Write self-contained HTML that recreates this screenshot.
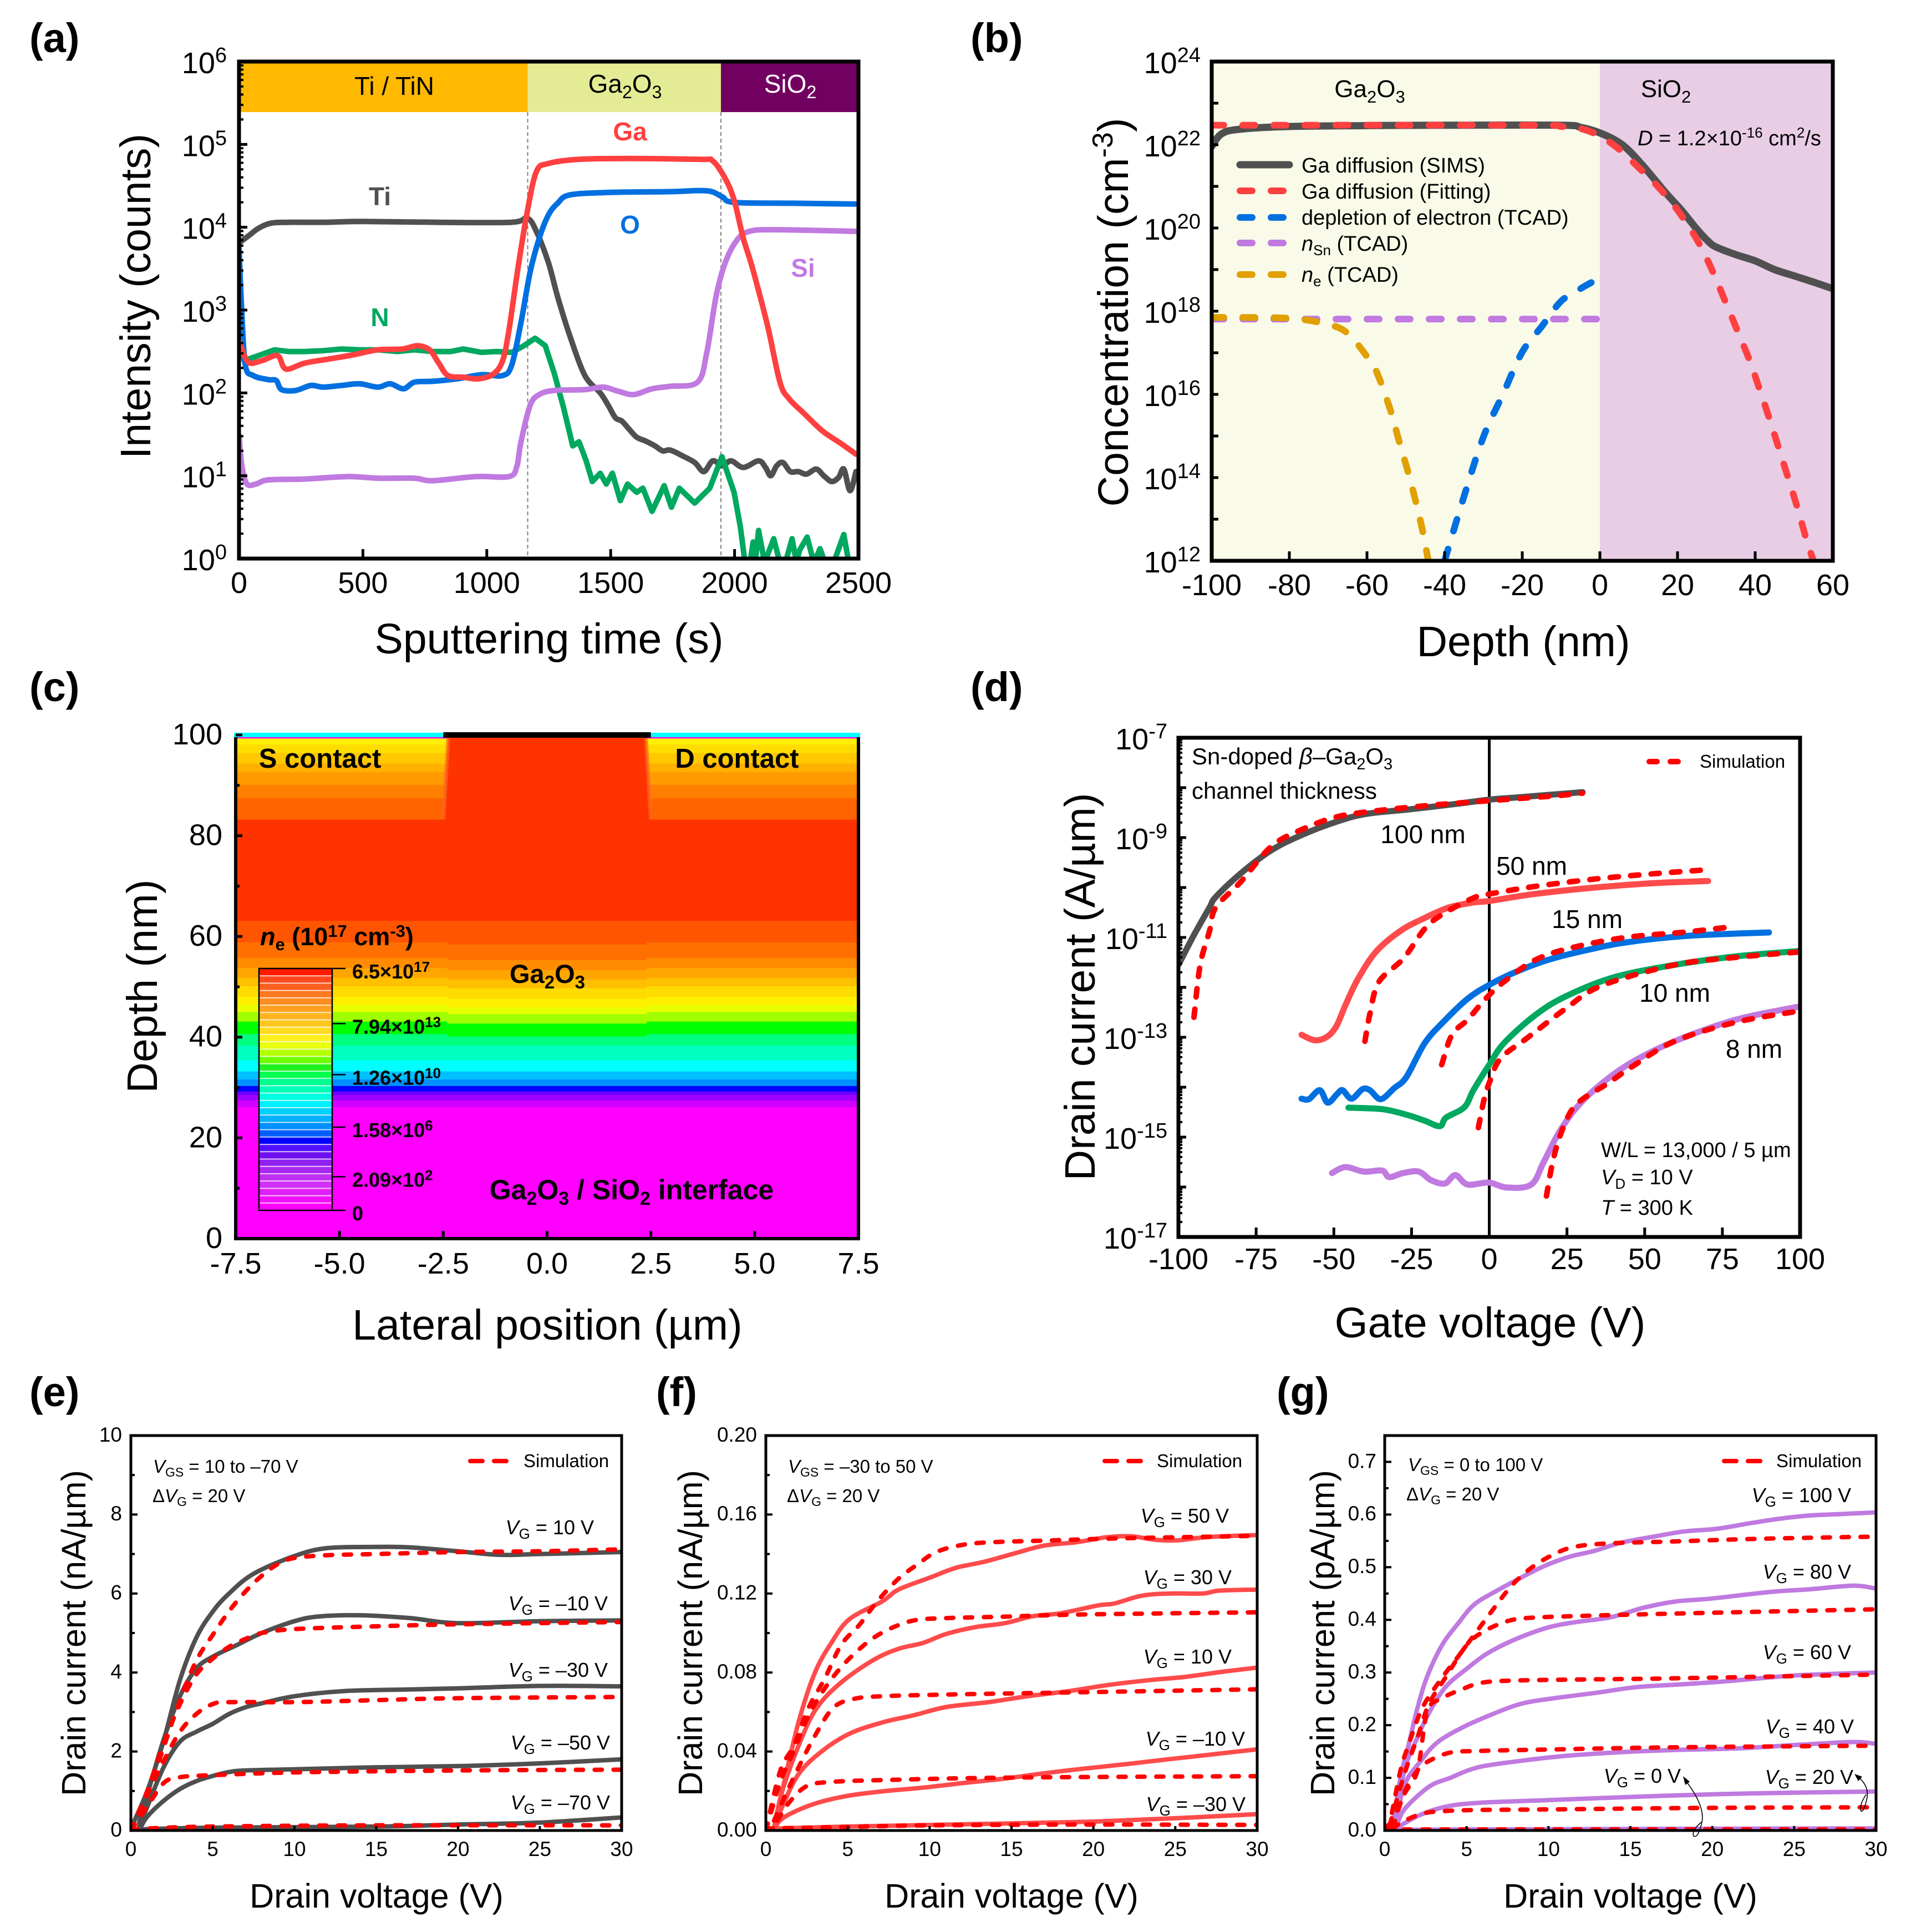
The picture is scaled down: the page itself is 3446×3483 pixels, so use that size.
<!DOCTYPE html>
<html lang="en">
<head>
<meta charset="utf-8">
<title>Ga2O3 device characterization figure</title>
<style>
html,body{margin:0;padding:0;background:#fff;}
svg{display:block;font-family:"Liberation Sans",sans-serif;fill:#000;}
.pl{font-size:74px;font-weight:bold;}
.tt{font-size:77px;}
.st{font-size:61px;}
.t46{font-size:46px;}
.t38{font-size:38px;}
.t42{font-size:42px;}
.t35{font-size:38px;}
.t33{font-size:33px;}
.t32{font-size:33px;}
.vg{font-size:36px;text-anchor:end;}
.m{text-anchor:middle;}
.b{font-weight:bold;}
.i{font-style:italic;}
</style>
</head>
<body>
<svg id="figure" xmlns="http://www.w3.org/2000/svg" width="3446" height="3483" viewBox="0 0 3446 3483">
<rect x="0" y="0" width="3446" height="3483" fill="#fff"/>
<g id="marks"></g>
<g id="labels">
  <text class="pl" x="53" y="94">(a)</text>
  <text class="pl" x="1750" y="94">(b)</text>
  <text class="pl" x="53" y="1264">(c)</text>
  <text class="pl" x="1750" y="1264">(d)</text>
  <text class="pl" x="53" y="2535">(e)</text>
  <text class="pl" x="1183" y="2535">(f)</text>
  <text class="pl" x="2302" y="2535">(g)</text>

  <!-- panel a -->
  <text class="tt m" x="990" y="1178">Sputtering time (s)</text>
  <text class="tt m" transform="translate(271,534) rotate(-90)">Intensity (counts)</text>
  <text class="t46 m" x="711" y="171">Ti / TiN</text>
  <text class="t46 m" x="1127" y="167">Ga<tspan dy="10" font-size="32">2</tspan><tspan dy="-10">O</tspan><tspan dy="10" font-size="32">3</tspan></text>
  <text class="t46 m" x="1425" y="167" fill="#fff">SiO<tspan dy="10" font-size="32">2</tspan></text>
  <text class="t46 m b" x="1136" y="253" fill="#ff4040">Ga</text>
  <text class="t46 m b" x="685" y="370" fill="#505050">Ti</text>
  <text class="t46 m b" x="685" y="588" fill="#00a860">N</text>
  <text class="t46 m b" x="1136" y="421" fill="#0070e0">O</text>
  <text class="t46 m b" x="1448" y="499" fill="#c07ae0">Si</text>

  <!-- panel b -->
  <text class="tt m" x="2747" y="1183">Depth (nm)</text>
  <text class="tt m" transform="translate(2034,563) rotate(-90)">Concentration (cm<tspan dy="-28" font-size="52">-3</tspan><tspan dy="28">)</tspan></text>
  <text class="m" font-size="44" x="2470" y="175">Ga<tspan dy="10" font-size="31">2</tspan><tspan dy="-10">O</tspan><tspan dy="10" font-size="31">3</tspan></text>
  <text class="m" font-size="44" x="3004" y="175">SiO<tspan dy="10" font-size="31">2</tspan></text>
  <text class="t38" x="2953" y="262"><tspan class="i">D</tspan> = 1.2×10<tspan dy="-14" font-size="26">-16</tspan><tspan dy="14"> cm</tspan><tspan dy="-14" font-size="26">2</tspan><tspan dy="14">/s</tspan></text>
  <text class="t38" x="2347" y="311">Ga diffusion (SIMS)</text>
  <text class="t38" x="2347" y="358">Ga diffusion (Fitting)</text>
  <text class="t38" x="2347" y="405">depletion of electron (TCAD)</text>
  <text class="t38" x="2347" y="452"><tspan class="i">n</tspan><tspan dy="8" font-size="26">Sn</tspan><tspan dy="-8"> (TCAD)</tspan></text>
  <text class="t38" x="2347" y="508"><tspan class="i">n</tspan><tspan dy="8" font-size="26">e</tspan><tspan dy="-8"> (TCAD)</tspan></text>

  <!-- panel c -->
  <text class="tt m" x="987" y="2415">Lateral position (µm)</text>
  <text class="tt m" transform="translate(283,1778) rotate(-90)">Depth (nm)</text>
  <text class="b m" font-size="49" x="577" y="1384">S contact</text>
  <text class="b m" font-size="49" x="1329" y="1384">D contact</text>
  <text class="b m" font-size="47" x="987" y="1772">Ga<tspan dy="10" font-size="33">2</tspan><tspan dy="-10">O</tspan><tspan dy="10" font-size="33">3</tspan></text>
  <text class="b m" font-size="50" x="1139" y="2162">Ga<tspan dy="10" font-size="34">2</tspan><tspan dy="-10">O</tspan><tspan dy="10" font-size="34">3</tspan><tspan dy="-10"> / SiO</tspan><tspan dy="10" font-size="34">2</tspan><tspan dy="-10"> interface</tspan></text>
  <text class="b" font-size="45" x="469" y="1704"><tspan class="i">n</tspan><tspan dy="9" font-size="31">e</tspan><tspan dy="-9"> (10</tspan><tspan dy="-15" font-size="31">17</tspan><tspan dy="15"> cm</tspan><tspan dy="-15" font-size="31">-3</tspan><tspan dy="15">)</tspan></text>

  <!-- panel d -->
  <text class="tt m" x="2687" y="2411">Gate voltage (V)</text>
  <text class="tt m" transform="translate(1974,1779) rotate(-90)">Drain current (A/µm)</text>
  <text class="t42" x="2149" y="1378">Sn-doped <tspan class="i">β</tspan>–Ga<tspan dy="9" font-size="29">2</tspan><tspan dy="-9">O</tspan><tspan dy="9" font-size="29">3</tspan></text>
  <text class="t42" x="2149" y="1440">channel thickness</text>
  <text class="t33" x="3065" y="1384">Simulation</text>
  <text class="t46 m" x="2566" y="1520">100 nm</text>
  <text class="t46 m" x="2762" y="1577">50 nm</text>
  <text class="t46 m" x="2862" y="1673">15 nm</text>
  <text class="t46 m" x="3020" y="1806">10 nm</text>
  <text class="t46 m" x="3163" y="1907">8 nm</text>
  <text class="t35" x="2887" y="2086">W/L = 13,000 / 5 µm</text>
  <text class="t35" x="2887" y="2135"><tspan class="i">V</tspan><tspan dy="8" font-size="26">D</tspan><tspan dy="-8"> = 10 V</tspan></text>
  <text class="t35" x="2887" y="2190"><tspan class="i">T</tspan> = 300 K</text>

  <!-- panel e -->
  <text class="st m" x="679" y="3439">Drain voltage (V)</text>
  <text class="st m" transform="translate(154,2944) rotate(-90)">Drain current (nA/µm)</text>
  <text class="t32" x="276" y="2655"><tspan class="i">V</tspan><tspan dy="7" font-size="23">GS</tspan><tspan dy="-7"> = 10 to –70 V</tspan></text>
  <text class="t32" x="275" y="2708">Δ<tspan class="i">V</tspan><tspan dy="7" font-size="23">G</tspan><tspan dy="-7"> = 20 V</tspan></text>
  <text class="t33" x="944" y="2645">Simulation</text>
  <text class="vg" x="1071" y="2766"><tspan class="i">V</tspan><tspan dy="8" font-size="26">G</tspan><tspan dy="-8"> = 10 V</tspan></text>
  <text class="vg" x="1096" y="2903"><tspan class="i">V</tspan><tspan dy="8" font-size="26">G</tspan><tspan dy="-8"> = –10 V</tspan></text>
  <text class="vg" x="1096" y="3023"><tspan class="i">V</tspan><tspan dy="8" font-size="26">G</tspan><tspan dy="-8"> = –30 V</tspan></text>
  <text class="vg" x="1100" y="3154"><tspan class="i">V</tspan><tspan dy="8" font-size="26">G</tspan><tspan dy="-8"> = –50 V</tspan></text>
  <text class="vg" x="1100" y="3262"><tspan class="i">V</tspan><tspan dy="8" font-size="26">G</tspan><tspan dy="-8"> = –70 V</tspan></text>

  <!-- panel f -->
  <text class="st m" x="1824" y="3439">Drain voltage (V)</text>
  <text class="st m" transform="translate(1266,2944) rotate(-90)">Drain current (nA/µm)</text>
  <text class="t32" x="1421" y="2655"><tspan class="i">V</tspan><tspan dy="7" font-size="23">GS</tspan><tspan dy="-7"> = –30 to 50 V</tspan></text>
  <text class="t32" x="1419" y="2708">Δ<tspan class="i">V</tspan><tspan dy="7" font-size="23">G</tspan><tspan dy="-7"> = 20 V</tspan></text>
  <text class="t33" x="2086" y="2645">Simulation</text>
  <text class="vg" x="2216" y="2745"><tspan class="i">V</tspan><tspan dy="8" font-size="26">G</tspan><tspan dy="-8"> = 50 V</tspan></text>
  <text class="vg" x="2221" y="2856"><tspan class="i">V</tspan><tspan dy="8" font-size="26">G</tspan><tspan dy="-8"> = 30 V</tspan></text>
  <text class="vg" x="2221" y="2999"><tspan class="i">V</tspan><tspan dy="8" font-size="26">G</tspan><tspan dy="-8"> = 10 V</tspan></text>
  <text class="vg" x="2245" y="3147"><tspan class="i">V</tspan><tspan dy="8" font-size="26">G</tspan><tspan dy="-8"> = –10 V</tspan></text>
  <text class="vg" x="2246" y="3265"><tspan class="i">V</tspan><tspan dy="8" font-size="26">G</tspan><tspan dy="-8"> = –30 V</tspan></text>

  <!-- panel g -->
  <text class="st m" x="2940" y="3439">Drain voltage (V)</text>
  <text class="st m" transform="translate(2406,2944) rotate(-90)">Drain current (pA/µm)</text>
  <text class="t32" x="2539" y="2652"><tspan class="i">V</tspan><tspan dy="7" font-size="23">GS</tspan><tspan dy="-7"> = 0 to 100 V</tspan></text>
  <text class="t32" x="2536" y="2705">Δ<tspan class="i">V</tspan><tspan dy="7" font-size="23">G</tspan><tspan dy="-7"> = 20 V</tspan></text>
  <text class="t33" x="3203" y="2645">Simulation</text>
  <text class="vg" x="3338" y="2708"><tspan class="i">V</tspan><tspan dy="8" font-size="26">G</tspan><tspan dy="-8"> = 100 V</tspan></text>
  <text class="vg" x="3338" y="2846"><tspan class="i">V</tspan><tspan dy="8" font-size="26">G</tspan><tspan dy="-8"> = 80 V</tspan></text>
  <text class="vg" x="3338" y="2991"><tspan class="i">V</tspan><tspan dy="8" font-size="26">G</tspan><tspan dy="-8"> = 60 V</tspan></text>
  <text class="vg" x="3343" y="3125"><tspan class="i">V</tspan><tspan dy="8" font-size="26">G</tspan><tspan dy="-8"> = 40 V</tspan></text>
  <text class="vg" x="3342" y="3216"><tspan class="i">V</tspan><tspan dy="8" font-size="26">G</tspan><tspan dy="-8"> = 20 V</tspan></text>
  <text class="vg" x="3031" y="3214"><tspan class="i">V</tspan><tspan dy="8" font-size="26">G</tspan><tspan dy="-8"> = 0 V</tspan></text>
  <path d="M3038 3208 Q3075 3255 3069 3285 Q3062 3315 3054 3310 Q3050 3300 3068 3285" fill="none" stroke="#000" stroke-width="1.6"/>
  <path d="M3035 3202 L3047 3212 L3039 3218 Z" fill="#000"/>
  <path d="M3350 3203 Q3372 3220 3366 3245 Q3360 3268 3356 3265 Q3352 3255 3365 3235" fill="none" stroke="#000" stroke-width="1.6"/>
  <path d="M3344 3198 L3358 3203 L3351 3211 Z" fill="#000"/>
</g>
<script>
// ---------- panel a data: [sputtering time (s), log10 counts] ----------
const aXTicks = [0, 500, 1000, 1500, 2000, 2500];
const aYDecades = [0, 1, 2, 3, 4, 5, 6];
const aBandEdges = [0, 1165, 1945, 2500];
const aBandFloor = 5.39;
const aTi = [[0,3.81],[40,3.9],[80,3.99],[130,4.05],[200,4.06],[350,4.06],[500,4.07],[800,4.06],[1100,4.06],[1163,4.11],[1200,3.95],[1249,3.57],[1286,3.16],[1335,2.69],[1396,2.21],[1458,2.0],[1490,1.85],[1519,1.7],[1545,1.66],[1575,1.56],[1605,1.465],[1640,1.42],[1679,1.36],[1710,1.3],[1740,1.31],[1790,1.24],[1839,1.16],[1876,1.05],[1912,1.18],[1950,1.12],[1986,1.18],[2035,1.1],[2097,1.18],[2125,1.1],[2146,1.0],[2170,1.12],[2195,1.16],[2225,1.05],[2257,1.05],[2290,1.02],[2330,1.08],[2360,1.0],[2392,0.93],[2420,0.98],[2441,1.08],[2466,0.82],[2490,1.05]];
const aN = [[0,2.75],[20,2.39],[69,2.44],[143,2.52],[200,2.5],[265,2.5],[340,2.51],[413,2.53],[490,2.52],[560,2.52],[640,2.5],[708,2.52],[780,2.5],[855,2.5],[905,2.53],[978,2.49],[1040,2.5],[1101,2.49],[1150,2.57],[1195,2.66],[1236,2.57],[1273,2.23],[1310,1.82],[1347,1.36],[1372,1.41],[1401,1.18],[1426,0.93],[1458,1.03],[1482,0.9],[1507,1.03],[1539,0.7],[1568,0.9],[1605,0.8],[1630,0.85],[1667,0.57],[1716,0.88],[1745,0.62],[1777,0.85],[1839,0.67],[1900,0.85],[1949,1.23],[1998,0.8],[2023,0.39],[2040,0],[2060,-0.1],[2075,0.2],[2085,0],[2097,0.34],[2121,-0.05],[2158,0.24],[2183,-0.05],[2205,-0.05],[2232,0.24],[2250,-0.05],[2262,0.1],[2293,0.26],[2320,-0.05],[2345,0.12],[2365,-0.05],[2400,-0.05],[2441,0.29],[2461,-0.05],[2495,-0.05]];
const aO = [[0,3.77],[10,3.05],[25,2.34],[57,2.21],[118,2.16],[150,2.15],[172,2.04],[229,2.03],[290,2.09],[339,2.07],[413,2.09],[487,2.11],[560,2.07],[610,2.11],[664,2.05],[708,2.13],[782,2.14],[880,2.17],[978,2.22],[1064,2.21],[1101,2.34],[1138,2.85],[1175,3.46],[1212,3.87],[1249,4.15],[1286,4.29],[1335,4.39],[1495,4.42],[1740,4.43],[1888,4.44],[1949,4.37],[1998,4.3],[2232,4.29],[2490,4.28]];
const aSi = [[0,1.49],[12,1.11],[32,0.9],[69,0.9],[118,0.95],[265,0.96],[437,0.99],[560,0.97],[708,0.97],[782,0.94],[954,0.99],[1089,0.99],[1121,1.11],[1138,1.41],[1175,1.85],[1212,1.98],[1273,2.03],[1396,2.04],[1470,2.07],[1530,2.02],[1593,1.98],[1667,2.05],[1740,2.08],[1851,2.13],[1888,2.49],[1925,3.16],[1962,3.57],[2011,3.85],[2060,3.95],[2158,3.97],[2490,3.95]];
const aGa = [[0,2.64],[20,2.46],[44,2.36],[93,2.39],[155,2.45],[180,2.31],[204,2.29],[265,2.36],[364,2.41],[462,2.46],[560,2.52],[659,2.53],[720,2.57],[769,2.52],[806,2.36],[843,2.21],[905,2.19],[966,2.17],[1027,2.23],[1064,2.39],[1089,2.75],[1126,3.51],[1163,4.18],[1200,4.67],[1249,4.77],[1372,4.82],[1568,4.83],[1863,4.82],[1912,4.8],[1962,4.59],[1998,4.33],[2035,3.87],[2072,3.51],[2134,2.8],[2183,2.13],[2220,1.93],[2281,1.75],[2355,1.54],[2429,1.39],[2490,1.26]];

// ---------- panel b data: [depth (nm), log10 concentration] ----------
const bXTicks = [-100, -80, -60, -40, -20, 0, 20, 40, 60];
const bYLabelDecades = [12, 14, 16, 18, 20, 22, 24];
const bYTickDecades = [12, 13, 14, 15, 16, 17, 18, 19, 20, 21, 22, 23, 24];
const bRegionEdges = [-100, 0, 60];
const bSims = [[-100,21.96],[-97.5,22.26],[-93,22.37],[-80,22.44],[-60,22.46],[-40,22.47],[-10,22.47],[-5,22.42],[-1,22.32],[4,22.11],[7.5,21.86],[12,21.4],[17,20.84],[21,20.43],[25,19.97],[28,19.67],[30,19.54],[35,19.36],[40,19.21],[45,19.0],[50,18.85],[55,18.7],[60,18.54]];
const bFit = [[-100,22.47],[-20,22.47],[-10,22.44],[-5,22.39],[0,22.21],[5,21.89],[10,21.45],[15,20.99],[20,20.43],[25,19.72],[28.6,19.05],[32.5,18.19],[35.7,17.47],[38.8,16.76],[41.2,16.1],[43.8,15.38],[46.2,14.67],[48.6,13.96],[51,13.24],[53.3,12.48],[55,12.0]];
const bDepletion = [[-40,12],[-35,13.55],[-30,14.98],[-25,16],[-20,17.02],[-15,17.63],[-10,18.24],[-5,18.54],[-2,18.7]];
const bNsn = [[-100,17.81],[0,17.81]];
const bNe = [[-100,17.85],[-80,17.83],[-70,17.68],[-65,17.47],[-60,16.91],[-57.6,16.56],[-54.2,15.69],[-51.7,14.87],[-49.5,14.16],[-47.5,13.45],[-45.7,12.73],[-44.2,12]];

// ---------- panel c data ----------
const cXTicks = [-7.5, -5, -2.5, 0, 2.5, 5, 7.5];
const cXLabels = ["-7.5", "-5.0", "-2.5", "0.0", "2.5", "5.0", "7.5"];
const cYTicks = [0, 20, 40, 60, 80, 100];
const cYMinorTicks = [10, 30, 50, 70, 90];
const cBandDepths = [99.3,98.1,96.4,94.3,92.6,90.1,87.4,83.2,63.1,58.8,55.7,53.7,51.8,50.1,48,46.3,45,43.1,40.6,38.3,35.4,33.2,31.6,30.3,29.2,28.5,27.4,26.1,0.4];
const cBandColors = ["#ffee00","#ffdd00","#ffc800","#ffb000","#ff9a00","#ff7f00","#ff6400","#ff3300","#ff5500","#ff7000","#ff8c00","#ffa500","#ffc000","#ffdc00","#fff000","#e8ff00","#a0ff00","#00ff00","#00ff80","#00ffc0","#00ffff","#00c0ff","#0090ff","#0000ff","#7000ff","#a000ff","#d000ff","#ff00ff"];
const cGateEdgeTop = 2.38;
const cGateEdgeBottom = 2.5;
const cGateBottomDepth = 83.2;
const cCenterShift = 0.4;
const cLegendColors = ["#ff1a00","#ff4a20","#ff6020","#ff7820","#ff8c20","#ffa020","#ffb420","#ffc820","#ffdc20","#fff020","#e8ff10","#b4ff00","#70ff00","#20f020","#00ff50","#00ff90","#00ffb8","#00ffe0","#00f0ff","#00d0ff","#00b0ff","#0090ff","#0060ff","#0000ff","#5010ff","#7010f0","#9020f0","#a828f0","#c030f0","#d030f8","#e020f8","#f010fc","#ff00ff"];
const cLegendMantissas = ["6.5", "7.94", "1.26", "1.58", "2.09", "0"];
const cLegendExponents = ["17", "13", "10", "6", "2", ""];
const cLegendFractions = [0, 0.228, 0.439, 0.656, 0.861, 1];

// ---------- panel d data: [gate voltage (V), log10 current] ----------
const dXTicks = [-100, -75, -50, -25, 0, 25, 50, 75, 100];
const dYLabelDecades = [-17, -15, -13, -11, -9, -7];
const dYTickDecades = [-17, -16, -15, -14, -13, -12, -11, -10, -9, -8, -7];
const d100 = [[-100,-11.55],[-95,-10.95],[-90,-10.4],[-88,-10.19],[-80,-9.72],[-70,-9.25],[-60,-8.94],[-50,-8.7],[-40,-8.53],[-25,-8.43],[-10,-8.32],[0,-8.24],[10,-8.19],[20,-8.14],[30,-8.09]];
const d100Sim = [[-95,-12.6],[-93,-11.55],[-90,-10.87],[-88,-10.4],[-80,-9.89],[-70,-9.17],[-60,-8.83],[-50,-8.6],[-40,-8.49],[-20,-8.36],[0,-8.26],[20,-8.17],[30,-8.11]];
const d50 = [[-60.4,-12.95],[-56.1,-13.06],[-52.2,-12.99],[-49.2,-12.78],[-46.3,-12.36],[-42.4,-11.85],[-36.5,-11.29],[-28.6,-10.87],[-20.8,-10.61],[-13,-10.4],[-5.1,-10.3],[0,-10.27],[14.5,-10.13],[34,-10.0],[53.7,-9.91],[70.4,-9.87]];
const d50Sim = [[-40,-13.08],[-38.4,-12.53],[-35.5,-11.89],[-27.6,-11.42],[-20.8,-10.83],[-14.9,-10.53],[-5.1,-10.21],[0,-10.13],[14.5,-9.98],[34,-9.83],[53.7,-9.72],[69,-9.65]];
const d15 = [[-60.4,-14.23],[-58,-14.24],[-54.5,-14.06],[-52,-14.31],[-49,-14.14],[-47.2,-14.06],[-44.3,-14.23],[-40.8,-14.04],[-38.4,-14.06],[-34.9,-14.24],[-30.6,-14.02],[-26.7,-13.8],[-20.8,-13.12],[-14.9,-12.7],[-7,-12.23],[0,-11.95],[8.6,-11.69],[18.4,-11.46],[30.2,-11.27],[43.9,-11.1],[63.5,-10.97],[90,-10.9]];
const d15Sim = [[-15.3,-13.55],[-12,-12.95],[-7,-12.65],[-1.2,-12.23],[4.7,-11.89],[14.5,-11.46],[26.3,-11.21],[43.9,-11.0],[63.5,-10.89],[79,-10.78]];
const d10 = [[-45.3,-14.41],[-34.5,-14.44],[-26.7,-14.55],[-20.8,-14.67],[-15.9,-14.78],[-13.9,-14.61],[-8,-14.4],[-5.1,-14.06],[0,-13.55],[4.7,-13.12],[14.5,-12.57],[24.3,-12.19],[40,-11.8],[59.6,-11.55],[79.2,-11.38],[100,-11.27]];
const d10Sim = [[-3.5,-14.81],[-1.6,-14.23],[0.4,-13.85],[3.7,-13.42],[12.5,-13],[24.3,-12.44],[36,-11.97],[59.6,-11.55],[79.2,-11.4],[100,-11.29]];
const d8 = [[-50.6,-15.72],[-46.3,-15.6],[-40.4,-15.69],[-34.5,-15.67],[-32.2,-15.8],[-27.7,-15.72],[-22.7,-15.69],[-18.8,-15.86],[-14.3,-15.93],[-10.9,-15.76],[-7,-15.95],[-0.2,-15.91],[5.7,-16.01],[13.5,-15.95],[17.5,-15.5],[22.4,-14.91],[28.2,-14.4],[36.1,-13.93],[45.9,-13.5],[59.6,-13.08],[79.2,-12.65],[100,-12.38]];
const d8Sim = [[18.4,-16.18],[20.4,-15.5],[22.9,-14.95],[26.3,-14.48],[30.2,-14.23],[38,-13.93],[45.9,-13.59],[59.6,-13.08],[79.2,-12.7],[100,-12.47]];
const dZeroLine = 0;

// ---------- panel e data: [drain voltage (V), current (nA/um)] ----------
const outXTicks = [0, 5, 10, 15, 20, 25, 30];
const eYTicks = [0, 2, 4, 6, 8, 10];
const eYMinorTicks = [1, 3, 5, 7, 9];
const eVg10 = [[0,0.05],[1,1.0],[2,2.27],[3,3.81],[4,4.88],[5,5.54],[6,6.0],[7.5,6.5],[10,6.95],[12,7.15],[15,7.18],[17,7.17],[20,7.07],[22.5,6.98],[25,7.0],[30,7.05]];
const eVgM10 = [[0.5,0.2],[1,0.9],[2,2.3],[3,3.4],[4,4.1],[5,4.4],[6.5,4.7],[8,5.0],[10,5.3],[11.5,5.42],[14,5.45],[17,5.38],[20,5.25],[25,5.3],[30,5.32]];
const eVgM30 = [[0.5,0.1],[1,0.6],[2,1.6],[3,2.25],[4,2.5],[5,2.7],[6,2.95],[7,3.12],[8,3.22],[10,3.4],[13,3.53],[17,3.57],[20,3.6],[25,3.66],[30,3.65]];
const eVgM50 = [[0.5,0],[1,0.35],[2,0.75],[3,1.05],[4,1.25],[5,1.38],[6,1.48],[7,1.52],[10,1.55],[15,1.6],[20,1.63],[25,1.7],[30,1.8]];
const eVgM70 = [[0.5,0.03],[5,0.07],[15,0.1],[20,0.15],[25,0.2],[30,0.33]];
const eSim10 = [[0,0],[1,0.9],[2,2.1],[3,3.3],[4,4.3],[5,4.95],[6,5.55],[7,6.05],[8,6.45],[9,6.75],[10,6.9],[12,6.97],[15,7.0],[20,7.05],[25,7.07],[30,7.12]];
const eSimM10 = [[0,0],[1,1.0],[2,2.2],[3,3.2],[4,3.95],[5,4.35],[6,4.65],[7,4.85],[8,5.0],[10,5.1],[15,5.17],[20,5.22],[30,5.28]];
const eSimM30 = [[0,0],[1,0.9],[2,1.75],[3,2.5],[4,2.95],[5,3.2],[6,3.25],[10,3.25],[15,3.3],[20,3.35],[30,3.38]];
const eSimM50 = [[0,0],[1,0.6],[2,1.2],[3,1.35],[5,1.4],[10,1.47],[20,1.52],[30,1.54]];
const eSimM70 = [[0,0],[1,0.05],[5,0.1],[15,0.13],[30,0.13]];

// ---------- panel f data: [drain voltage (V), current (nA/um)] ----------
const fYTicks = [0, 0.04, 0.08, 0.12, 0.16, 0.2];
const fYLabels = ["0.00", "0.04", "0.08", "0.12", "0.16", "0.20"];
const fYMinorTicks = [0.02, 0.06, 0.1, 0.14, 0.18];
const fVg50 = [[0.5,0.001],[1,0.02],[2,0.055],[3,0.08],[4,0.095],[5.1,0.107],[7.1,0.116],[8.1,0.122],[10,0.128],[11.6,0.133],[13.3,0.136],[15.3,0.1406],[17,0.1443],[19,0.146],[20.8,0.1485],[22.3,0.149],[23.8,0.1472],[25.2,0.147],[27,0.1486],[30,0.1496]];
const fVg30 = [[0.5,0.001],[1,0.02],[2.1,0.045],[3.1,0.062],[4.6,0.075],[6.6,0.0865],[8.1,0.092],[9.6,0.095],[11,0.0995],[12.8,0.103],[14.6,0.105],[16.3,0.1085],[18,0.11],[20.3,0.114],[21.3,0.115],[23,0.119],[24.8,0.12],[26.7,0.12],[27.7,0.1215],[30,0.122]];
const fVg10 = [[0.5,0.001],[1,0.012],[2,0.0286],[3.4,0.04],[5.1,0.049],[7.1,0.0547],[9.1,0.0585],[11,0.0625],[13.6,0.065],[16,0.068],[18.5,0.0706],[21,0.0738],[23.5,0.0762],[25.5,0.0777],[28,0.0805],[30,0.0825]];
const fVgM10 = [[0.5,0.001],[1,0.006],[2.1,0.0108],[3.4,0.0146],[5.1,0.0177],[7.1,0.0198],[9.6,0.0217],[12,0.024],[14.6,0.0263],[17,0.029],[19.5,0.0314],[22,0.0336],[24.5,0.036],[27,0.0383],[30,0.0411]];
const fVgM30 = [[0.5,0.001],[5,0.002],[10,0.0028],[15,0.0036],[20,0.0045],[25,0.0062],[30,0.0083]];
const fSim50 = [[0,0],[0.87,0.03],[1.74,0.0435],[2.6,0.062],[3.6,0.077],[4.6,0.094],[5.7,0.104],[6.8,0.116],[8.1,0.1275],[9.3,0.135],[10.3,0.1406],[11.6,0.144],[13.3,0.1458],[17,0.1468],[22,0.148],[30,0.1492]];
const fSim30 = [[0,0],[0.9,0.025],[1.7,0.04],[2.6,0.058],[3.6,0.072],[4.6,0.0827],[5.6,0.091],[6.6,0.0977],[7.8,0.103],[9.1,0.1065],[10.8,0.1075],[14.6,0.1083],[19.5,0.1094],[30,0.1105]];
const fSim10 = [[0.5,0.005],[1.2,0.018],[2,0.032],[3,0.048],[4.1,0.062],[5.3,0.0665],[7.1,0.068],[12,0.069],[17,0.0697],[30,0.0715]];
const fSimM10 = [[0.7,0.005],[1.5,0.015],[2.5,0.0225],[3.8,0.0245],[7,0.0255],[15,0.0268],[30,0.0275]];
const fSimM30 = [[0,0.001],[5,0.0018],[10,0.0026],[20,0.003],[30,0.0028]];

// ---------- panel g data: [drain voltage (V), current (pA/um)] ----------
const gYTicks = [0, 0.1, 0.2, 0.3, 0.4, 0.5, 0.6, 0.7];
const gYLabels = ["0.0", "0.1", "0.2", "0.3", "0.4", "0.5", "0.6", "0.7"];
const gYMinorTicks = [0.05, 0.15, 0.25, 0.35, 0.45, 0.55, 0.65];
const gVg100 = [[0.5,0.01],[0.96,0.1],[1.46,0.163],[2,0.233],[2.6,0.293],[3.5,0.352],[4.5,0.394],[5.5,0.43],[7,0.458],[8.25,0.479],[9.8,0.503],[11.3,0.52],[12.8,0.531],[14.5,0.547],[16.6,0.559],[18.3,0.568],[20.3,0.573],[22.4,0.584],[24.1,0.592],[25.9,0.598],[27.9,0.601],[29.9,0.604]];
const gVg80 = [[0.6,0.01],[1.2,0.114],[2,0.177],[2.7,0.223],[3.7,0.272],[5,0.307],[6.2,0.335],[7.75,0.36],[9.8,0.384],[11.5,0.395],[13.8,0.405],[15.8,0.423],[17.8,0.435],[19.8,0.44],[21.8,0.447],[23.9,0.454],[25.9,0.458],[28.6,0.465],[29.9,0.46]];
const gVg60 = [[0.6,0.005],[1.2,0.086],[2.2,0.132],[3.2,0.167],[4.7,0.195],[6.2,0.216],[8.25,0.24],[10.3,0.251],[12.8,0.261],[15.3,0.272],[17.8,0.277],[20.3,0.282],[22.9,0.289],[25.4,0.295],[29.9,0.3]];
const gVg40 = [[0.7,0.005],[1.2,0.04],[2.7,0.083],[4,0.1],[5.7,0.12],[8.25,0.132],[10.8,0.141],[14,0.148],[17.8,0.153],[21.6,0.156],[25.4,0.163],[28.6,0.168],[29.9,0.165]];
const gVg20 = [[0.7,0.002],[1,0.01],[2.2,0.03],[3.7,0.045],[5.7,0.0525],[10.3,0.058],[15.3,0.064],[20.3,0.069],[25.4,0.072],[29.9,0.074]];
const gVg0 = [[0.5,0.001],[5,0.002],[15,0.003],[30,0.004]];
const gSim100 = [[0,0.01],[0.3,0.015],[0.96,0.114],[1.46,0.163],[2.3,0.233],[3.5,0.29],[4.5,0.331],[5.5,0.373],[6.5,0.415],[7.75,0.465],[9,0.5],[10.3,0.524],[11.5,0.538],[13.5,0.545],[17.8,0.549],[22.9,0.554],[29.9,0.558]];
const gSim80 = [[0.3,0.01],[1.2,0.107],[2,0.177],[2.7,0.24],[3.7,0.29],[5,0.352],[6,0.377],[7.25,0.395],[8.5,0.403],[11.5,0.407],[17.8,0.412],[29.9,0.42]];
const gSim60 = [[0.3,0.005],[1.2,0.069],[2,0.114],[2.6,0.226],[3.5,0.251],[4.7,0.268],[6,0.281],[8.25,0.285],[12.8,0.287],[17.8,0.289],[29.9,0.296]];
const gSim40 = [[0.5,0.005],[1.2,0.072],[2,0.114],[2.7,0.132],[4,0.148],[5.7,0.151],[10.3,0.154],[17.8,0.158],[29.9,0.161]];
const gSim20 = [[0.5,0.002],[1,0.015],[2.3,0.032],[3.7,0.037],[5.7,0.039],[10,0.04],[20,0.043],[30,0.044]];
const gSim0 = [[0,0.002],[30,0.002]];

// ---------- drawing helpers ----------
const SVGNS = "http://www.w3.org/2000/svg";
const marks = document.getElementById("marks");
const RED = "#ff0000", GREY = "#505050", BLUE = "#0070e0", GREEN = "#00a860", PURPLE = "#c07ae0", ORANGE = "#e0a000", SOLIDRED = "#ff4b4b";

function add(parent, tag, name, attrs) {
  const el = document.createElementNS(SVGNS, tag);
  
  
  for (const k in attrs) el.setAttribute(k, attrs[k]);
  parent.appendChild(el);
  return el;
}

function makePanel(id, x0, x1, y0, y1, xMin, xMax, yMin, yMax, frame) {
  const g = add(marks, "g", "panel-" + id, {});
  const clipId = "clip-" + id;
  const cp = add(g, "clipPath", id + "-clip", {id: clipId});
  add(cp, "rect", id + "-clip-rect", {x: x0, y: y0, width: x1 - x0, height: y1 - y0});
  const plot = add(g, "g", id + "-plot-area", {"clip-path": "url(#" + clipId + ")"});
  return {
    id, x0, x1, y0, y1, g, plot, frame,
    sx: v => x0 + (v - xMin) / (xMax - xMin) * (x1 - x0),
    sy: v => y1 - (v - yMin) / (yMax - yMin) * (y1 - y0)
  };
}

function linePath(p, pts, smooth) {
  const q = pts.map(d => [p.sx(d[0]), p.sy(d[1])]);
  let s = "M" + q[0][0].toFixed(1) + " " + q[0][1].toFixed(1);
  for (let i = 1; i < q.length; i++) {
    if (!smooth) { s += "L" + q[i][0].toFixed(1) + " " + q[i][1].toFixed(1); continue; }
    const a = q[Math.max(i - 2, 0)], b = q[i - 1], c = q[i], d = q[Math.min(i + 1, q.length - 1)];
    s += "C" + (b[0] + (c[0] - a[0]) / 6).toFixed(1) + " " + (b[1] + (c[1] - a[1]) / 6).toFixed(1) + " " +
      (c[0] - (d[0] - b[0]) / 6).toFixed(1) + " " + (c[1] - (d[1] - b[1]) / 6).toFixed(1) + " " + c[0].toFixed(1) + " " + c[1].toFixed(1);
  }
  return s;
}

function drawLine(p, pts, name, color, width, dash, smooth) {
  const attrs = {d: linePath(p, pts, smooth), fill: "none", stroke: color, "stroke-width": width, "stroke-linejoin": "round", "stroke-linecap": "round"};
  if (dash) attrs["stroke-dasharray"] = dash;
  return add(p.plot, "path", name, attrs);
}

function finishFrame(p) {
  const w = p.frame;
  add(p.g, "rect", p.id + "-plot-frame", {x: p.x0, y: p.y0, width: p.x1 - p.x0, height: p.y1 - p.y0, fill: "none", stroke: "#000", "stroke-width": w});
}

function xTicks(p, vals, len, w, prefix) {
  vals.forEach(v => {
    add(p.g, "line", p.id + "-" + prefix + "-tick", {x1: p.sx(v), x2: p.sx(v), y1: p.y1, y2: p.y1 - len, stroke: "#000", "stroke-width": w});
  });
}

function yTicks(p, vals, len, w, prefix) {
  vals.forEach(v => {
    add(p.g, "line", p.id + "-" + prefix + "-tick", {x1: p.x0, x2: p.x0 + len, y1: p.sy(v), y2: p.sy(v), stroke: "#000", "stroke-width": w});
  });
}

function xLabels(p, vals, labels, baseline, size) {
  vals.forEach((v, i) => {
    const t = add(p.g, "text", p.id + "-x-tick-label", {x: p.sx(v), y: baseline, "text-anchor": "middle", "font-size": size});
    t.textContent = labels[i];
  });
}

function yLabels(p, vals, labels, right, size) {
  vals.forEach((v, i) => {
    const t = add(p.g, "text", p.id + "-y-tick-label", {x: right, y: p.sy(v) + size * 0.36 - 2.5, "text-anchor": "end", "font-size": size});
    t.textContent = labels[i];
  });
}

function logLabels(p, decades, right) {
  decades.forEach(d => {
    const t = add(p.g, "text", p.id + "-y-tick-label", {x: right, y: p.sy(d) + 21, "text-anchor": "end", "font-size": 54});
    t.appendChild(document.createTextNode("10"));
    const sup = add(t, "tspan", p.id + "-y-tick-exponent", {dy: -20, "font-size": 38});
    sup.textContent = String(d);
  });
}

function logMinors(decades) {
  const out = [];
  decades.slice(0, -1).forEach(d => {
    for (let k = 2; k < 10; k++) out.push(d + Math.log10(k));
  });
  return out;
}

function legendDash(parent, name, x1, x2, y, color, width, dash) {
  const attrs = {x1, x2, y1: y, y2: y, stroke: color, "stroke-width": width, "stroke-linecap": "round"};
  if (dash) attrs["stroke-dasharray"] = dash;
  return add(parent, "line", name, attrs);
}

// ---------- panel a ----------
const pa = makePanel("a", 431, 1548, 111, 1007, 0, 2500, 0, 6, 7);
["#ffb900", "#e3ec94", "#720060"].forEach((c, i) => {
  add(pa.plot, "rect", "a-band-" + i, {x: pa.sx(aBandEdges[i]), y: pa.sy(6), width: pa.sx(aBandEdges[i + 1]) - pa.sx(aBandEdges[i]), height: pa.sy(aBandFloor) - pa.sy(6), fill: c});
});
[aBandEdges[1], aBandEdges[2]].forEach(v => {
  add(pa.plot, "line", "a-region-divider", {x1: pa.sx(v), x2: pa.sx(v), y1: pa.sy(aBandFloor), y2: pa.y1, stroke: "#808080", "stroke-width": 2, "stroke-dasharray": "7 5"});
});
drawLine(pa, aTi, "a-series-ti", GREY, 10, null, true);
drawLine(pa, aN, "a-series-n", GREEN, 10, null, false);
drawLine(pa, aO, "a-series-o", BLUE, 10, null, true);
drawLine(pa, aSi, "a-series-si", PURPLE, 10, null, true);
drawLine(pa, aGa, "a-series-ga", "#ff4040", 10, null, true);
finishFrame(pa);
xTicks(pa, aXTicks, 17, 5, "x");
yTicks(pa, aYDecades, 15, 5, "y");
yTicks(pa, logMinors(aYDecades), 8, 4, "y-minor");
xLabels(pa, aXTicks, aXTicks.map(String), 1069, 54);
logLabels(pa, aYDecades, 409);

// ---------- panel b ----------
const pb = makePanel("b", 2185, 3305, 111, 1011, -100, 60, 12, 24, 7);
["#f9fae8", "#e8cde4"].forEach((c, i) => {
  add(pb.plot, "rect", "b-region-" + i, {x: pb.sx(bRegionEdges[i]), y: pb.y0, width: pb.sx(bRegionEdges[i + 1]) - pb.sx(bRegionEdges[i]), height: pb.y1 - pb.y0, fill: c});
});
drawLine(pb, bSims, "b-series-sims", GREY, 13, null, true);
drawLine(pb, bFit, "b-series-fit", "#ff4040", 12, "22 34", true);
drawLine(pb, bDepletion, "b-series-depletion", BLUE, 12, "22 34", true);
drawLine(pb, bNsn, "b-series-nsn", PURPLE, 12, "22 34", false);
drawLine(pb, bNe, "b-series-ne", ORANGE, 12, "22 34", true);
finishFrame(pb);
xTicks(pb, bXTicks, 17, 5, "x");
yTicks(pb, bYTickDecades, 12, 5, "y");
xLabels(pb, bXTicks, bXTicks.map(String), 1073, 54);
logLabels(pb, bYLabelDecades, 2165);
legendDash(pb.g, "b-legend-line-sims", 2236, 2325, 297, GREY, 13, null);
legendDash(pb.g, "b-legend-line-fit", 2236, 2325, 344, "#ff4040", 12, "22 34");
legendDash(pb.g, "b-legend-line-depletion", 2236, 2325, 392, BLUE, 12, "22 34");
legendDash(pb.g, "b-legend-line-nsn", 2236, 2325, 438, PURPLE, 12, "22 34");
legendDash(pb.g, "b-legend-line-ne", 2236, 2325, 495, ORANGE, 12, "22 34");

// ---------- panel c ----------
const pc = makePanel("c", 425, 1548, 1325, 2233, -7.5, 7.5, 0, 100, 6);
add(pc.plot, "rect", "c-map-base", {x: pc.x0, y: pc.y0, width: pc.x1 - pc.x0, height: pc.y1 - pc.y0, fill: "#ff00ff"});
cBandColors.forEach((c, i) => {
  add(pc.plot, "rect", "c-map-band", {x: pc.x0, y: pc.sy(cBandDepths[i]), width: pc.x1 - pc.x0, height: pc.sy(cBandDepths[i + 1]) - pc.sy(cBandDepths[i]) + 0.5, fill: c});
});
cBandColors.forEach((c, i) => {
  if (cBandDepths[i] > 63.2 || cBandDepths[i] < 43) return;
  add(pc.plot, "rect", "c-map-center-band", {x: pc.sx(-2.4), y: pc.sy(cBandDepths[i] - cCenterShift), width: pc.sx(2.4) - pc.sx(-2.4), height: pc.sy(cBandDepths[i + 1]) - pc.sy(cBandDepths[i]) + 0.5, fill: c});
});
add(pc.plot, "path", "c-gate-depletion-region", {d: "M" + pc.sx(-cGateEdgeTop) + " " + pc.sy(100) + "L" + pc.sx(cGateEdgeTop) + " " + pc.sy(100) + "L" + pc.sx(cGateEdgeBottom) + " " + pc.sy(cGateBottomDepth) + "L" + pc.sx(-cGateEdgeBottom) + " " + pc.sy(cGateBottomDepth) + "Z", fill: "#ff3300"});
[-1, 1].forEach(side => {
  add(pc.plot, "line", "c-gate-edge", {x1: pc.sx(side * cGateEdgeTop), y1: pc.sy(cBandDepths[0]), x2: pc.sx(side * cGateEdgeBottom), y2: pc.sy(cGateBottomDepth), stroke: "#ff6a20", "stroke-width": 7, "stroke-opacity": 0.7});
});
finishFrame(pc);
add(pc.g, "rect", "c-top-bar", {x: pc.x0 - 3, y: 1321, width: pc.x1 - pc.x0 + 6, height: 8, fill: "#00ffff"});
add(pc.g, "rect", "c-gate-bar", {x: pc.sx(-2.5), y: 1320, width: pc.sx(2.5) - pc.sx(-2.5), height: 10, fill: "#000"});
xTicks(pc, cXTicks, 14, 5, "x");
yTicks(pc, cYTicks, 12, 5, "y");
yTicks(pc, cYMinorTicks, 7, 5, "y-minor");
xLabels(pc, cXTicks, cXLabels, 2296, 54);
yLabels(pc, cYTicks, cYTicks.map(String), 401, 54);
// colorbar
const cbX = 467, cbW = 132, cbTop = 1746, cbH = 436;
const cbar = add(pc.g, "g", "c-colorbar", {});
cLegendColors.forEach((c, i) => {
  const h = cbH / cLegendColors.length;
  add(cbar, "rect", "c-colorbar-cell", {x: cbX, y: cbTop + i * h, width: cbW, height: h, fill: c});
  if (i > 0) add(cbar, "line", "c-colorbar-separator", {x1: cbX, x2: cbX + cbW, y1: cbTop + i * h, y2: cbTop + i * h, stroke: "#fff", "stroke-opacity": 0.75, "stroke-width": 2});
});
add(cbar, "rect", "c-colorbar-frame", {x: cbX, y: cbTop, width: cbW, height: cbH, fill: "none", stroke: "#000", "stroke-width": 2.5});
cLegendFractions.forEach((f, i) => {
  const y = cbTop + f * cbH;
  add(cbar, "line", "c-colorbar-tick", {x1: cbX + cbW, x2: cbX + cbW + 24, y1: y, y2: y, stroke: "#000", "stroke-width": 2.5});
  const t = add(cbar, "text", "c-colorbar-label", {x: 635, y: y + 18, "font-size": 36, "font-weight": "bold"});
  t.appendChild(document.createTextNode(cLegendMantissas[i] + (cLegendExponents[i] ? "×10" : "")));
  if (cLegendExponents[i]) {
    const sup = add(t, "tspan", "c-colorbar-label-exponent", {dy: -12, "font-size": 26});
    sup.textContent = cLegendExponents[i];
  }
});

// ---------- panel d ----------
const pd = makePanel("d", 2125, 3246, 1330, 2230, -100, 100, -17, -7, 7);
add(pd.plot, "line", "d-zero-volt-line", {x1: pd.sx(dZeroLine), x2: pd.sx(dZeroLine), y1: pd.y0, y2: pd.y1, stroke: "#000", "stroke-width": 5});
const dDash = "15 22";
drawLine(pd, d100, "d-series-100nm", GREY, 11, null, true);
drawLine(pd, d50, "d-series-50nm", SOLIDRED, 11, null, true);
drawLine(pd, d15, "d-series-15nm", BLUE, 11, null, true);
drawLine(pd, d10, "d-series-10nm", GREEN, 11, null, true);
drawLine(pd, d8, "d-series-8nm", PURPLE, 11, null, true);
drawLine(pd, d100Sim, "d-sim-100nm", RED, 10, dDash, true);
drawLine(pd, d50Sim, "d-sim-50nm", RED, 10, dDash, true);
drawLine(pd, d15Sim, "d-sim-15nm", RED, 10, dDash, true);
drawLine(pd, d10Sim, "d-sim-10nm", RED, 10, dDash, true);
drawLine(pd, d8Sim, "d-sim-8nm", RED, 10, dDash, true);
finishFrame(pd);
xTicks(pd, dXTicks, 17, 5, "x");
yTicks(pd, dYTickDecades, 14, 5, "y");
yTicks(pd, logMinors(dYTickDecades), 7, 4, "y-minor");
xLabels(pd, dXTicks, dXTicks.map(String), 2288, 54);
logLabels(pd, dYLabelDecades, 2105);
legendDash(pd.g, "d-legend-line", 2974, 3040, 1373, RED, 10, "14 24");

// ---------- output panels ----------
function outputPanel(id, x0, x1, yMax, tickVals, tickLabels, minorVals, right, solid, sims, color, legendX1, legendX2) {
  const p = makePanel(id, x0, x1, 2588, 3300, 0, 30, 0, yMax, 5);
  solid.forEach((s, i) => drawLine(p, s, id + "-series-" + i, color, 8, null, true));
  sims.forEach((s, i) => drawLine(p, s, id + "-sim-" + i, RED, 8, "13 21", true));
  finishFrame(p);
  xTicks(p, outXTicks, 8, 4, "x");
  yTicks(p, tickVals, 12, 4, "y");
  yTicks(p, minorVals, 7, 4, "y-minor");
  xLabels(p, outXTicks, outXTicks.map(String), 3346, 37);
  yLabels(p, tickVals, tickLabels, right, 37);
  legendDash(p.g, id + "-legend-line", legendX1, legendX2, 2634, RED, 8, "22 21");
  return p;
}
outputPanel("e", 236, 1121, 10, eYTicks, eYTicks.map(String), eYMinorTicks, 220,
  [eVg10, eVgM10, eVgM30, eVgM50, eVgM70], [eSim10, eSimM10, eSimM30, eSimM50, eSimM70], GREY, 848, 926);
outputPanel("f", 1381, 2267, 0.2, fYTicks, fYLabels, fYMinorTicks, 1365,
  [fVg50, fVg30, fVg10, fVgM10, fVgM30], [fSim50, fSim30, fSim10, fSimM10, fSimM30], SOLIDRED, 1992, 2070);
outputPanel("g", 2497, 3383, 0.75, gYTicks, gYLabels, gYMinorTicks, 2482,
  [gVg100, gVg80, gVg60, gVg40, gVg20, gVg0], [gSim100, gSim80, gSim60, gSim40, gSim20, gSim0], PURPLE, 3109, 3188);
</script>
</svg>
</body>
</html>
